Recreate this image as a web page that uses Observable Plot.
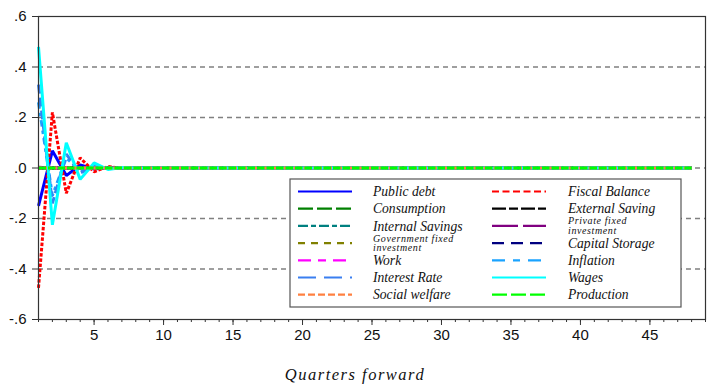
<!DOCTYPE html>
<html><head><meta charset="utf-8">
<script src="https://cdn.jsdelivr.net/npm/d3@7"></script>
<script src="https://cdn.jsdelivr.net/npm/@observablehq/plot@0.6"></script>
<style>
body{margin:0;background:#fff;}
#wrap{position:relative;width:710px;height:389px;overflow:hidden;}
#cap{width:710px;height:34px;line-height:40px;text-align:center;font-family:"Liberation Serif","Times New Roman",serif;font-style:italic;font-size:16.5px;letter-spacing:1.5px;color:#111;}
</style></head><body>
<div id="wrap"><div id="chart"></div><div id="cap">Quarters forward</div></div>
<script>
// ---- data (impulse responses; quarters beyond those listed read as 0) ----
const nQuarters = 48;
const seriesNames = ["Public debt","Fiscal Balance","Consumption","External Saving","Internal Savings","Private fixed investment","Government fixed investment","Capital Storage","Work","Inflation","Interest Rate","Wages","Social welfare","Production"];
const seriesColors = ["#0000ff","#ff0000","#008000","#000000","#008080","#800080","#808000","#000080","#ff00ff","#1aa3ff","#3a7ff0","#00ffff","#ff8040","#00ff00"];
const legendDash = [null,"7,3.5","15,4","14,3,9,3","10,3,5,3","26,5","7,6","12,7","13,7,8,7","13,8,7,8","18,8",null,"7,3","15,4"];
const publicDebt      = [-0.15, 0.068, -0.03, 0.012, -0.004, 0.001];
const fiscalBalance   = [-0.475, 0.22, -0.10, 0.04, -0.015, 0.006, -0.002];
const consumption     = [0];
const externalSaving  = [0];
const internalSavings = [0];
const privateFixed    = [0.003, 0];
const govFixed        = [0];
const capitalStorage  = [0];
const work            = [0];
const inflation       = [0.26, -0.11, 0.04, -0.012, 0.004];
const interestRate    = [0.33, -0.14, 0.055, -0.02, 0.006, -0.002];
const wages           = [0.48, -0.225, 0.10, -0.045, 0.02, -0.006, 0.002];
const socialWelfare   = [0];
const production      = [0];
const seriesValues = [publicDebt, fiscalBalance, consumption, externalSaving, internalSavings, privateFixed, govFixed, capitalStorage, work, inflation, interestRate, wages, socialWelfare, production];
const yTicks = [-0.6,-0.4,-0.2,0,0.2,0.4,0.6];
const gridTicks = [-0.4,-0.2,0,0.2,0.4];
const xMajor = [5,10,15,20,25,30,35,40,45];
const xMinor = d3.range(1, 50);
// legend layout: left column then right column
const legendLeft = ["Public debt","Consumption","Internal Savings","Government fixed investment","Work","Interest Rate","Social welfare"];
const legendRight = ["Fiscal Balance","External Saving","Private fixed investment","Capital Storage","Inflation","Wages","Production"];

const quarters = d3.range(1, nQuarters + 1);
const rows = [];
seriesNames.forEach((s, i) => {
  quarters.forEach((q, j) => rows.push({s, q, v: j < seriesValues[i].length ? seriesValues[i][j] : 0}));
});
const scaleDash = d => d == null ? null : d.split(",").map(x => +x * 0.5).join(",");

const fmt = d => { const t = d.toFixed(1); return t.replace(/^(-?)0\./, "$1."); };

const lineMarks = seriesNames.map((s, i) => Plot.line(rows.filter(r => r.s === s), {
  x: "q", y: "v", stroke: seriesColors[i], strokeWidth: 3,
  strokeDasharray: scaleDash(legendDash[i]), strokeLinejoin: "miter", strokeLinecap: "butt"
}));

const plot = Plot.plot({
  width: 710, height: 355,
  marginTop: 16, marginLeft: 38, marginRight: 5, marginBottom: 36,
  style: {fontFamily: "'Liberation Sans', Arial, sans-serif", fontSize: "15px", color: "#111", background: "#fff"},
  x: {domain: [1, 49], label: null},
  y: {domain: [-0.6, 0.6], label: null},
  marks: [
    Plot.ruleY(gridTicks, {stroke: "#808080", strokeWidth: 1.3, strokeDasharray: "5,4"}),
    ...lineMarks,
    Plot.frame({stroke: "#333", strokeWidth: 1.2}),
    Plot.axisY({ticks: yTicks, tickFormat: fmt, tickSize: 6, tickPadding: 6, label: null, stroke: "#333"}),
    Plot.axisX({ticks: xMajor, tickSize: 6, tickPadding: 4, label: null, tickFormat: d => String(d), stroke: "#333"}),
    Plot.axisX({ticks: xMinor, tickSize: 3, label: null, tickFormat: () => "", stroke: "#333"})
  ]
});
document.getElementById("chart").appendChild(plot);

// ---- legend box inside the plot ----
const svg = d3.select(plot);
const lg = svg.append("g").attr("transform", "translate(290,179)").attr("text-anchor", "start");
lg.append("rect").attr("width", 391).attr("height", 128).attr("fill", "#fff").attr("stroke", "#555").attr("stroke-width", 1.2);
const rowH = 17.2, firstY = 12.5;
function addText(tx, y, size, str, ls) {
  lg.append("text").attr("x", tx).attr("y", y).attr("text-anchor", "start")
    .attr("font-family", "'Liberation Serif','Times New Roman',serif")
    .attr("font-style", "italic").attr("fill", "#111")
    .attr("font-size", size).attr("letter-spacing", ls).text(str);
}
function addItem(name, col, row) {
  const i = seriesNames.indexOf(name);
  const x0 = col === 0 ? 8 : 202, tx = col === 0 ? 83 : 278;
  const y = firstY + row * rowH;
  lg.append("line").attr("x1", x0).attr("x2", x0 + 54).attr("y1", y).attr("y2", y)
    .attr("stroke", seriesColors[i]).attr("stroke-width", 2.2)
    .attr("stroke-dasharray", legendDash[i]);
  const words = name.split(" ");
  if (name.length > 18) {
    addText(tx, y - 1.5, 10, words.slice(0, -1).join(" "), 0.6);
    addText(tx, y + 8, 10, words[words.length - 1], 0.6);
  } else {
    addText(tx, y + 4.6, 13.6, name, 0);
  }
}
legendLeft.forEach((n, r) => addItem(n, 0, r));
legendRight.forEach((n, r) => addItem(n, 1, r));
</script>
</body></html>
